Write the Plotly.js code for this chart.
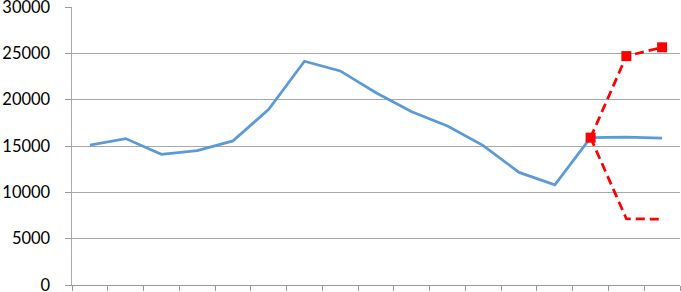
<!DOCTYPE html>
<html>
<head>
<meta charset="utf-8">
<script src="https://cdn.plot.ly/plotly-3.0.1.min.js"></script>
<style>html,body{margin:0;padding:0;background:#fff;}#chart{width:681px;height:292px;}</style>
</head>
<body>
<div id="chart"></div>
<script>
// Categories (unlabelled periods)
const categories = [1,2,3,4,5,6,7,8,9,10,11,12,13,14,15,16,17];
// Main series
const mainValues = [15100,15800,14100,14500,15550,18950,24150,23100,20750,18700,17150,15050,12150,10800,15900,15950,15850];
// Upper scenario
const upperCats = [15,16,17];
const upperValues = [15900,24700,25650];
// Lower scenario
const lowerCats = [15,16,17];
const lowerValues = [15900,7150,7100];
const yTicks = [0,5000,10000,15000,20000,25000,30000];

const traces = [
  {x: categories, y: mainValues, type:'scatter', mode:'lines',
   line:{color:'#5B9BD5', width:2.75}, hoverinfo:'skip'},
  {x: lowerCats, y: lowerValues, type:'scatter', mode:'lines',
   line:{color:'#FF0000', width:2.75, dash:'9px,5px'}},
  {x: upperCats, y: upperValues, type:'scatter', mode:'lines+markers',
   line:{color:'#FF0000', width:2.75, dash:'9px,5px'},
   marker:{symbol:'square', size:10, color:'#FF0000'}}
];

const layout = {
  width:681, height:292,
  margin:{l:72, r:1, t:7, b:7},
  paper_bgcolor:'#fff', plot_bgcolor:'#fff',
  showlegend:false,
  xaxis:{
    range:[0.5,17.5], tick0:0.5, dtick:1, tickmode:'linear',
    showticklabels:false, ticks:'outside', ticklen:5, tickcolor:'#999', tickwidth:1,
    showgrid:false, zeroline:false, showline:true, linecolor:'#999', linewidth:1
  },
  yaxis:{
    range:[0,30000], tickmode:'array', tickvals:yTicks, ticktext:yTicks.map(String),
    ticks:'outside', ticklen:6, tickcolor:'#999', tickwidth:1,
    ticklabelstandoff:11, ticklabeloverflow:'allow',
    showgrid:true, gridcolor:'#a8a8a8', gridwidth:1, zeroline:false,
    showline:true, linecolor:'#aaa', linewidth:1.5,
    tickfont:{family:'Lato, sans-serif', size:16.5, color:'#000'}
  }
};
Plotly.newPlot('chart', traces, layout, {displayModeBar:false, staticPlot:true});
</script>
</body>
</html>
